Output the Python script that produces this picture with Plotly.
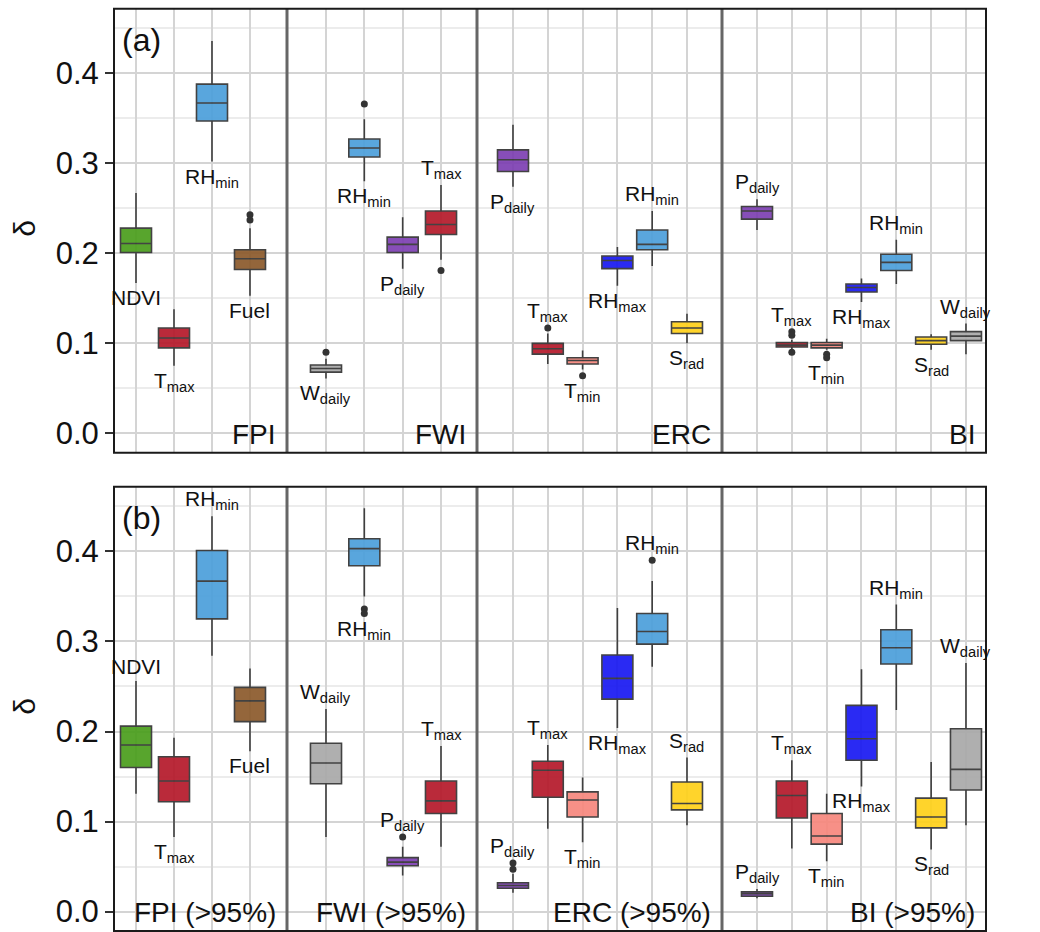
import plotly.graph_objects as go

W, H = 1040, 932
FONT = "Liberation Sans, Arial, Helvetica, sans-serif"

# ---------------- data ----------------
facet_names_a = ["FPI", "FWI", "ERC", "BI"]
facet_names_b = ["FPI (>95%)", "FWI (>95%)", "ERC (>95%)", "BI (>95%)"]

vars_FPI = ["NDVI", "Tmax", "RHmin", "Fuel"]
vars_FWI = ["Wdaily", "RHmin", "Pdaily", "Tmax"]
vars_ERC = ["Pdaily", "Tmax", "Tmin", "RHmax", "RHmin", "Srad"]
vars_BI = ["Pdaily", "Tmax", "Tmin", "RHmax", "RHmin", "Srad", "Wdaily"]

colors = {
    "NDVI": "#4A9E1C", "Tmax": "#B5192A", "RHmin": "#4C9FDB", "Fuel": "#8B5A2B",
    "Wdaily": "#A9A9A9", "Pdaily": "#7D3FB2", "RHmax": "#1919F2",
    "Tmin": "#F7877D", "Srad": "#FFD11A",
}
label_html = {
    "NDVI": "NDVI", "Fuel": "Fuel",
    "Tmax": "T<sub>max</sub>", "Tmin": "T<sub>min</sub>",
    "RHmin": "RH<sub>min</sub>", "RHmax": "RH<sub>max</sub>",
    "Pdaily": "P<sub>daily</sub>", "Wdaily": "W<sub>daily</sub>",
    "Srad": "S<sub>rad</sub>",
}

# ---- panel (a) ----
a_FPI_lo = [0.167, 0.075, 0.302, 0.153]
a_FPI_q1 = [0.201, 0.095, 0.347, 0.182]
a_FPI_med = [0.211, 0.106, 0.367, 0.194]
a_FPI_q3 = [0.228, 0.117, 0.388, 0.204]
a_FPI_hi = [0.267, 0.138, 0.436, 0.228]
a_FPI_out = [[], [], [], [0.243, 0.237]]
a_FPI_side = ["below", "below", "below", "below"]

a_FWI_lo = [0.061, 0.280, 0.183, 0.193]
a_FWI_q1 = [0.068, 0.307, 0.201, 0.221]
a_FWI_med = [0.072, 0.317, 0.210, 0.232]
a_FWI_q3 = [0.076, 0.327, 0.218, 0.247]
a_FWI_hi = [0.083, 0.349, 0.240, 0.276]
a_FWI_out = [[0.090], [0.366], [], [0.181]]
a_FWI_side = ["below", "below", "below", "above"]

a_ERC_lo = [0.274, 0.077, 0.071, 0.164, 0.186, 0.100]
a_ERC_q1 = [0.291, 0.088, 0.077, 0.183, 0.204, 0.111]
a_ERC_med = [0.304, 0.094, 0.081, 0.192, 0.210, 0.117]
a_ERC_q3 = [0.315, 0.100, 0.084, 0.197, 0.226, 0.124]
a_ERC_hi = [0.343, 0.111, 0.092, 0.207, 0.247, 0.133]
a_ERC_out = [[], [0.117], [0.064], [], [], []]
a_ERC_side = ["below", "above", "below", "below", "above", "below"]

a_BI_lo = [0.226, 0.093, 0.093, 0.146, 0.166, 0.093, 0.088]
a_BI_q1 = [0.238, 0.096, 0.095, 0.157, 0.181, 0.099, 0.103]
a_BI_med = [0.247, 0.098, 0.098, 0.162, 0.190, 0.103, 0.108]
a_BI_q3 = [0.252, 0.101, 0.101, 0.166, 0.199, 0.107, 0.113]
a_BI_hi = [0.260, 0.104, 0.105, 0.172, 0.215, 0.110, 0.122]
a_BI_out = [[], [0.113, 0.109, 0.090], [0.088, 0.084], [], [], [], []]
a_BI_side = ["above", "above", "below", "below", "above", "below", "above"]

# ---- panel (b) ----
b_FPI_lo = [0.131, 0.083, 0.284, 0.178]
b_FPI_q1 = [0.160, 0.122, 0.325, 0.211]
b_FPI_med = [0.185, 0.145, 0.367, 0.234]
b_FPI_q3 = [0.206, 0.172, 0.401, 0.249]
b_FPI_hi = [0.256, 0.193, 0.439, 0.270]
b_FPI_out = [[], [], [], []]
b_FPI_side = ["above", "below", "above", "below"]

b_FWI_lo = [0.083, 0.350, 0.040, 0.072]
b_FWI_q1 = [0.142, 0.384, 0.051, 0.109]
b_FWI_med = [0.165, 0.403, 0.055, 0.123]
b_FWI_q3 = [0.187, 0.414, 0.060, 0.145]
b_FWI_hi = [0.225, 0.448, 0.072, 0.184]
b_FWI_out = [[], [0.336, 0.331], [0.083], []]
b_FWI_side = ["above", "below", "above", "above"]

b_ERC_lo = [0.021, 0.092, 0.077, 0.204, 0.272, 0.096]
b_ERC_q1 = [0.026, 0.127, 0.105, 0.236, 0.297, 0.113]
b_ERC_med = [0.029, 0.157, 0.124, 0.259, 0.311, 0.120]
b_ERC_q3 = [0.032, 0.167, 0.133, 0.285, 0.331, 0.144]
b_ERC_hi = [0.042, 0.185, 0.149, 0.337, 0.367, 0.171]
b_ERC_out = [[0.054, 0.047], [], [], [], [0.390], []]
b_ERC_side = ["above", "above", "below", "below", "above", "above"]

b_BI_lo = [0.015, 0.070, 0.056, 0.139, 0.224, 0.069, 0.096]
b_BI_q1 = [0.017, 0.104, 0.075, 0.168, 0.275, 0.093, 0.135]
b_BI_med = [0.020, 0.129, 0.084, 0.192, 0.293, 0.105, 0.158]
b_BI_q3 = [0.022, 0.145, 0.109, 0.229, 0.313, 0.126, 0.203]
b_BI_hi = [0.025, 0.168, 0.131, 0.269, 0.341, 0.166, 0.276]
b_BI_out = [[], [], [], [], [], [], []]
b_BI_side = ["above", "above", "below", "below", "above", "below", "above"]

rows = [
    [
        (vars_FPI, a_FPI_lo, a_FPI_q1, a_FPI_med, a_FPI_q3, a_FPI_hi, a_FPI_out, a_FPI_side),
        (vars_FWI, a_FWI_lo, a_FWI_q1, a_FWI_med, a_FWI_q3, a_FWI_hi, a_FWI_out, a_FWI_side),
        (vars_ERC, a_ERC_lo, a_ERC_q1, a_ERC_med, a_ERC_q3, a_ERC_hi, a_ERC_out, a_ERC_side),
        (vars_BI, a_BI_lo, a_BI_q1, a_BI_med, a_BI_q3, a_BI_hi, a_BI_out, a_BI_side),
    ],
    [
        (vars_FPI, b_FPI_lo, b_FPI_q1, b_FPI_med, b_FPI_q3, b_FPI_hi, b_FPI_out, b_FPI_side),
        (vars_FWI, b_FWI_lo, b_FWI_q1, b_FWI_med, b_FWI_q3, b_FWI_hi, b_FWI_out, b_FWI_side),
        (vars_ERC, b_ERC_lo, b_ERC_q1, b_ERC_med, b_ERC_q3, b_ERC_hi, b_ERC_out, b_ERC_side),
        (vars_BI, b_BI_lo, b_BI_q1, b_BI_med, b_BI_q3, b_BI_hi, b_BI_out, b_BI_side),
    ],
]
row_titles = [facet_names_a, facet_names_b]
row_tags = ["(a)", "(b)"]

# ---------------- layout geometry (pixels) ----------------
facet_px = [(114, 287), (287, 477), (477, 722), (722, 986)]
row_px = [(8.7, 452.7), (486.7, 931.0)]
x_ranges = [[-0.579, 3.974], [-1.017, 3.939], [-1.034, 6.006], [-1.005, 6.575]]
box_w = [0.816, 0.81, 0.89, 0.89]
y_range = [-0.0215, 0.4718]


def px_x(p):
    return p / W


def px_y(p):
    return 1 - p / H


fig = go.Figure()
layout_axes = {}
annotations = []
shapes = []

for r, row in enumerate(rows):
    yname = "y" if r == 0 else "y2"
    ykey = "yaxis" if r == 0 else "yaxis2"
    y0p, y1p = row_px[r]
    for f, (vars_, lo, q1, med, q3, hi, outs, sides) in enumerate(row):
        k = r * 4 + f + 1
        xname = "x" if k == 1 else f"x{k}"
        xkey = "xaxis" if k == 1 else f"xaxis{k}"
        for i, v in enumerate(vars_):
            fig.add_trace(go.Box(
                x=[v], q1=[q1[i]], median=[med[i]], q3=[q3[i]],
                lowerfence=[lo[i]], upperfence=[hi[i]],
                width=box_w[f], whiskerwidth=0, boxpoints=False,
                fillcolor=colors[v], opacity=0.92,
                line=dict(color="#333333", width=1.6),
                xaxis=xname, yaxis=yname, showlegend=False, hoverinfo="skip",
            ))
            if outs[i]:
                fig.add_trace(go.Scatter(
                    x=[v] * len(outs[i]), y=outs[i], mode="markers",
                    marker=dict(color="#333333", size=7),
                    xaxis=xname, yaxis=yname, showlegend=False, hoverinfo="skip",
                ))
            if sides[i] == "below":
                yv = min([lo[i]] + outs[i])
                annotations.append(dict(
                    x=v, y=yv, xref=xname, yref=yname, text=label_html[v],
                    showarrow=False, yanchor="top", xanchor="center", yshift=-1,
                    font=dict(family=FONT, size=21, color="#111111"),
                ))
            else:
                yv = max([hi[i]] + outs[i])
                annotations.append(dict(
                    x=v, y=yv, xref=xname, yref=yname, text=label_html[v],
                    showarrow=False, yanchor="bottom", xanchor="center", yshift=1,
                    font=dict(family=FONT, size=21, color="#111111"),
                ))
        fx0, fx1 = facet_px[f]
        layout_axes[xkey] = dict(
            domain=[px_x(fx0), px_x(fx1)], anchor=yname, type="category",
            categoryorder="array", categoryarray=vars_, range=x_ranges[f],
            showticklabels=False, ticks="", showgrid=True, gridcolor="#D4D4D4",
            gridwidth=1.5, zeroline=False, showline=False, fixedrange=True,
        )
        # facet title at bottom right
        annotations.append(dict(
            x=px_x(fx1), y=px_y(y1p), xref="paper", yref="paper",
            text=row_titles[r][f], showarrow=False, xanchor="right",
            yanchor="bottom", xshift=-9, yshift=1,
            font=dict(family=FONT, size=28, color="#111111"),
        ))
        if f > 0:
            shapes.append(dict(
                type="line", xref="paper", yref="paper",
                x0=px_x(fx0), x1=px_x(fx0), y0=px_y(y1p), y1=px_y(y0p),
                line=dict(color="#666666", width=3),
            ))
    layout_axes[ykey] = dict(
        domain=[px_y(y1p), px_y(y0p)], anchor="x" if r == 0 else "x5",
        range=y_range, tick0=0, dtick=0.1, tickformat=".1f",
        showgrid=True, gridcolor="#D4D4D4", gridwidth=1.5,
        minor=dict(dtick=0.05, tick0=0, showgrid=True, gridcolor="#ECECEC", gridwidth=1.5),
        ticks="outside", ticklen=8, tickwidth=2, tickcolor="#333333",
        tickfont=dict(family=FONT, size=31, color="#111111"),
        zeroline=False, showline=False, fixedrange=True,
    )
    shapes.append(dict(
        type="rect", xref="paper", yref="paper",
        x0=px_x(facet_px[0][0]), x1=px_x(facet_px[-1][1]),
        y0=px_y(y1p), y1=px_y(y0p), line=dict(color="#1A1A1A", width=2),
    ))
    # panel tag
    annotations.append(dict(
        x=px_x(facet_px[0][0] + 6), y=px_y(y0p + 31), xref="paper", yref="paper",
        text=row_tags[r], showarrow=False, xanchor="left", yanchor="middle",
        font=dict(family=FONT, size=32, color="#111111"),
    ))
    # y-axis title
    annotations.append(dict(
        x=px_x(25), y=px_y((y0p + y1p) / 2 - 2), xref="paper", yref="paper",
        text="δ", showarrow=False, textangle=-90, xanchor="center", yanchor="middle",
        font=dict(family=FONT, size=30, color="#111111"),
    ))

fig.update_layout(
    width=W, height=H, margin=dict(l=0, r=0, t=0, b=0),
    paper_bgcolor="white", plot_bgcolor="white", boxmode="overlay",
    showlegend=False, annotations=annotations, shapes=shapes,
    **layout_axes,
)

fig.write_html(
    "out.html",
    config={"displayModeBar": False},
    post_script="document.body.style.margin='0px';document.body.style.overflow='hidden';",
)
